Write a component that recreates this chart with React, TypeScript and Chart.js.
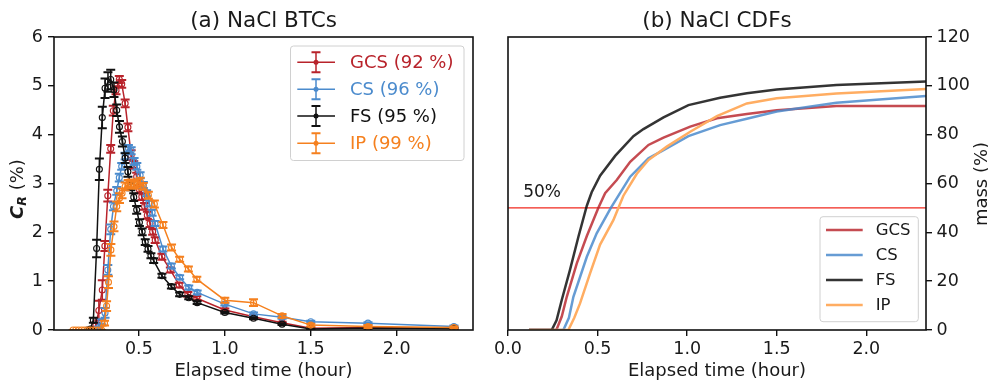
import React, { useEffect, useRef } from "react";
import { Chart, registerables } from "chart.js";
Chart.register(...registerables);

const FONT = "'DejaVu Sans', 'Liberation Sans', sans-serif";
const TEXT = "#1a1a1a";

// ---------- (a) BTC data: time (hour), C_R (%), error (%) ----------
const gcsTime = [0.217, 0.233, 0.25, 0.267, 0.287, 0.302, 0.319, 0.336, 0.351, 0.367, 0.386, 0.4, 0.42, 0.436, 0.455, 0.47, 0.487, 0.502, 0.517, 0.533, 0.549, 0.565, 0.58, 0.595, 0.634, 0.683, 0.735, 0.785, 0.837, 1.0, 1.167, 1.333, 1.5, 1.833, 2.333];
const gcsConc = [0, 0, 0.1, 0.4, 0.82, 1.72, 2.75, 3.71, 4.49, 4.91, 5.13, 5.04, 4.64, 4.15, 3.58, 3.38, 3.14, 2.88, 2.73, 2.53, 2.35, 2.18, 2.01, 1.84, 1.5, 1.23, 0.92, 0.73, 0.65, 0.41, 0.27, 0.15, 0.035, 0.05, 0.03];
const gcsErr = [0, 0, 0.05, 0.2, 0.2, 0.1, 0.12, 0.08, 0.1, 0.08, 0.07, 0.08, 0.08, 0.08, 0.1, 0.08, 0.08, 0.08, 0.07, 0.07, 0.07, 0.07, 0.06, 0.06, 0.06, 0.05, 0.05, 0.05, 0.04, 0.03, 0.03, 0.02, 0.02, 0.02, 0.02];

const csTime = [0.25, 0.267, 0.283, 0.303, 0.319, 0.336, 0.352, 0.371, 0.386, 0.4, 0.42, 0.439, 0.455, 0.472, 0.488, 0.507, 0.526, 0.545, 0.56, 0.577, 0.594, 0.64, 0.689, 0.737, 0.79, 0.839, 1.0, 1.167, 1.333, 1.5, 1.833, 2.333];
const csConc = [0, 0.05, 0.17, 0.35, 1.23, 2.06, 2.53, 2.85, 3.12, 3.35, 3.56, 3.72, 3.67, 3.45, 3.35, 3.17, 2.97, 2.8, 2.59, 2.4, 2.18, 1.66, 1.31, 1.08, 0.87, 0.77, 0.53, 0.33, 0.26, 0.17, 0.14, 0.07];
const csErr = [0, 0.02, 0.05, 0.1, 0.1, 0.1, 0.08, 0.08, 0.08, 0.07, 0.07, 0.07, 0.07, 0.07, 0.07, 0.06, 0.06, 0.06, 0.06, 0.06, 0.05, 0.05, 0.05, 0.04, 0.04, 0.04, 0.03, 0.03, 0.03, 0.02, 0.02, 0.02];

const fsTime = [0.2, 0.218, 0.235, 0.254, 0.27, 0.287, 0.303, 0.32, 0.336, 0.355, 0.371, 0.387, 0.404, 0.42, 0.436, 0.453, 0.47, 0.487, 0.503, 0.519, 0.537, 0.553, 0.57, 0.586, 0.634, 0.689, 0.737, 0.79, 0.839, 1.0, 1.167, 1.333, 1.5, 1.833, 2.333];
const fsConc = [0, 0.02, 0.2, 1.67, 3.29, 4.35, 4.95, 5.08, 5.13, 4.92, 4.5, 4.16, 3.86, 3.52, 3.24, 2.94, 2.72, 2.46, 2.2, 2.01, 1.8, 1.66, 1.52, 1.42, 1.11, 0.89, 0.73, 0.66, 0.56, 0.36, 0.24, 0.12, 0.02, 0.04, 0.03];
const fsErr = [0, 0, 0.05, 0.18, 0.22, 0.22, 0.2, 0.2, 0.2, 0.15, 0.12, 0.12, 0.1, 0.1, 0.1, 0.08, 0.08, 0.08, 0.07, 0.07, 0.06, 0.06, 0.05, 0.05, 0.04, 0.04, 0.04, 0.03, 0.03, 0.02, 0.02, 0.02, 0.01, 0.01, 0.01];

const ipTime = [0.117, 0.133, 0.15, 0.167, 0.183, 0.2, 0.217, 0.233, 0.25, 0.267, 0.283, 0.3, 0.312, 0.323, 0.337, 0.355, 0.371, 0.387, 0.402, 0.42, 0.438, 0.455, 0.472, 0.49, 0.508, 0.525, 0.555, 0.59, 0.64, 0.69, 0.737, 0.788, 0.837, 1.0, 1.167, 1.333, 1.5, 1.833, 2.333];
const ipConc = [0, 0, 0, 0, 0, 0, 0, 0, 0, 0, 0, 0.14, 0.49, 0.98, 1.64, 2.12, 2.53, 2.7, 2.8, 2.94, 2.99, 3.0, 2.97, 3.0, 3.04, 2.94, 2.76, 2.58, 2.15, 1.69, 1.45, 1.25, 1.04, 0.61, 0.56, 0.29, 0.1, 0.07, 0.05];
const ipErr = [0, 0, 0, 0, 0, 0, 0, 0, 0, 0, 0, 0.05, 0.1, 0.12, 0.12, 0.1, 0.1, 0.1, 0.1, 0.08, 0.08, 0.08, 0.08, 0.08, 0.08, 0.07, 0.07, 0.07, 0.06, 0.06, 0.05, 0.05, 0.05, 0.05, 0.07, 0.04, 0.03, 0.03, 0.02];

// ---------- (b) CDF data: time (hour), cumulative mass (%) ----------
const gcsCdfTime = [0.117, 0.27, 0.3, 0.328, 0.384, 0.44, 0.504, 0.542, 0.607, 0.682, 0.784, 0.868, 1.017, 1.166, 1.333, 1.5, 1.833, 2.333];
const gcsCdf = [0, 0, 5.5, 13.6, 27.3, 38.5, 50, 56, 61.4, 68.9, 75.8, 78.8, 83.3, 86.7, 88.5, 90, 91.7, 91.7];
const csCdfTime = [0.117, 0.309, 0.34, 0.365, 0.44, 0.495, 0.574, 0.682, 0.784, 0.868, 1.007, 1.184, 1.333, 1.5, 1.833, 2.333];
const csCdf = [0, 0, 5, 13.6, 30, 39.6, 50, 62.8, 70.3, 73.7, 79.4, 83.9, 86.5, 89.5, 93.1, 95.8];
const fsCdfTime = [0.117, 0.244, 0.271, 0.3, 0.346, 0.393, 0.44, 0.467, 0.514, 0.598, 0.7, 0.756, 0.868, 1.007, 1.184, 1.333, 1.5, 1.833, 2.333];
const fsCdf = [0, 0, 4, 12.3, 24.6, 38.2, 50.9, 56.4, 63.2, 71.3, 79.4, 82.3, 87.1, 92.1, 95.1, 97, 98.5, 100.3, 101.8];
const ipCdfTime = [0.117, 0.337, 0.37, 0.402, 0.458, 0.514, 0.588, 0.616, 0.644, 0.719, 0.784, 0.886, 1.017, 1.166, 1.333, 1.5, 1.833, 2.333];
const ipCdf = [0, 0, 5, 10.9, 23.2, 35, 45, 50, 55, 64, 69.6, 75.1, 81.2, 87.6, 92.8, 94.9, 96.9, 98.7];

const seriesNames = ["GCS", "CS", "FS", "IP"];
const recovery = [92, 96, 95, 99];
const btcXTicks = [0.5, 1.0, 1.5, 2.0];
const cdfXTicks = [0.0, 0.5, 1.0, 1.5, 2.0];
const halfLine = 50;

const btcColors = ["#b8232b", "#4b8bcd", "#111111", "#f5801e"];
const cdfColors = ["rgba(184,35,43,0.82)", "rgba(75,139,205,0.85)", "rgba(17,17,17,0.85)", "#ffad62"];

function roundRect(ctx: CanvasRenderingContext2D, x: number, y: number, w: number, h: number, r: number) {
  ctx.beginPath();
  ctx.moveTo(x + r, y);
  ctx.lineTo(x + w - r, y);
  ctx.arcTo(x + w, y, x + w, y + r, r);
  ctx.lineTo(x + w, y + h - r);
  ctx.arcTo(x + w, y + h, x + w - r, y + h, r);
  ctx.lineTo(x + r, y + h);
  ctx.arcTo(x, y + h, x, y + h - r, r);
  ctx.lineTo(x, y + r);
  ctx.arcTo(x, y, x + r, y, r);
  ctx.closePath();
}

const framePlugin = {
  id: "frame",
  afterDraw(chart: any) {
    const { ctx, chartArea: a } = chart;
    ctx.save();
    ctx.strokeStyle = "#111";
    ctx.lineWidth = 1.6;
    ctx.strokeRect(a.left, a.top, a.right - a.left, a.bottom - a.top);
    ctx.restore();
  },
};

function titlePlugin(text: string) {
  return {
    id: "ptitle",
    afterDraw(chart: any) {
      const { ctx, chartArea: a } = chart;
      ctx.save();
      ctx.font = `21.5px ${FONT}`;
      ctx.fillStyle = TEXT;
      ctx.textAlign = "center";
      ctx.textBaseline = "alphabetic";
      ctx.fillText(text, (a.left + a.right) / 2, 27);
      ctx.restore();
    },
  };
}

const errorBarPlugin = {
  id: "errbars",
  afterDatasetDraw(chart: any, args: any) {
    const ds = chart.data.datasets[args.index];
    if (!ds.errors) return;
    const { ctx, chartArea: a } = chart;
    const xs = chart.scales.x;
    const ys = chart.scales.y;
    ctx.save();
    ctx.beginPath();
    ctx.rect(a.left, a.top, a.right - a.left, a.bottom - a.top);
    ctx.clip();
    ctx.strokeStyle = ds.borderColor;
    ds.data.forEach((p: any, k: number) => {
      const e = ds.errors[k];
      const px = xs.getPixelForValue(p.x);
      const yt = ys.getPixelForValue(p.y + e);
      const yb = ys.getPixelForValue(p.y - e);
      ctx.lineWidth = 1.5;
      ctx.beginPath();
      ctx.moveTo(px, yt);
      ctx.lineTo(px, yb);
      ctx.stroke();
      ctx.lineWidth = 2;
      ctx.beginPath();
      ctx.moveTo(px - 4.5, yt);
      ctx.lineTo(px + 4.5, yt);
      ctx.moveTo(px - 4.5, yb);
      ctx.lineTo(px + 4.5, yb);
      ctx.stroke();
    });
    ctx.restore();
  },
};

const btcExtrasPlugin = {
  id: "btcExtras",
  afterDraw(chart: any) {
    const { ctx } = chart;
    ctx.save();
    // y title: C_R (%)
    ctx.translate(22.6, 189);
    ctx.rotate(-Math.PI / 2);
    ctx.fillStyle = TEXT;
    ctx.textBaseline = "alphabetic";
    const fBold = `italic bold 18px ${FONT}`;
    const fSub = `italic bold 12.6px ${FONT}`;
    const fReg = `18px ${FONT}`;
    ctx.font = fBold;
    const wC = ctx.measureText("C").width;
    ctx.font = fSub;
    const wR = ctx.measureText("R").width;
    ctx.font = fReg;
    const wP = ctx.measureText(" (%)").width;
    let x0 = -(wC + wR + wP) / 2;
    ctx.textAlign = "left";
    ctx.font = fBold;
    ctx.fillText("C", x0, 0);
    x0 += wC;
    ctx.font = fSub;
    ctx.fillText("R", x0, 3.5);
    x0 += wR;
    ctx.font = fReg;
    ctx.fillText(" (%)", x0, 0);
    ctx.restore();

    // legend
    ctx.save();
    roundRect(ctx, 290.5, 46, 173.5, 114.5, 3);
    ctx.fillStyle = "rgba(255,255,255,0.85)";
    ctx.fill();
    ctx.strokeStyle = "#d0d0d0";
    ctx.lineWidth = 1;
    ctx.stroke();
    const rows = [62.3, 89.3, 116, 143.3];
    seriesNames.forEach((n, i) => {
      const y = rows[i];
      const c = btcColors[i];
      ctx.strokeStyle = c;
      ctx.fillStyle = c;
      ctx.lineWidth = 1.5;
      ctx.beginPath();
      ctx.moveTo(297.3, y);
      ctx.lineTo(335, y);
      ctx.moveTo(316, y - 10);
      ctx.lineTo(316, y + 10);
      ctx.stroke();
      ctx.lineWidth = 2;
      ctx.beginPath();
      ctx.moveTo(311.5, y - 10);
      ctx.lineTo(320.5, y - 10);
      ctx.moveTo(311.5, y + 10);
      ctx.lineTo(320.5, y + 10);
      ctx.stroke();
      ctx.beginPath();
      ctx.arc(316, y, 2.5, 0, Math.PI * 2);
      ctx.fill();
      ctx.font = `18px ${FONT}`;
      ctx.textAlign = "left";
      ctx.textBaseline = "middle";
      ctx.fillText(`${n} (${recovery[i]} %)`, 350, y + 1);
    });
    ctx.restore();
  },
};

const cdfExtrasPlugin = {
  id: "cdfExtras",
  beforeDatasetsDraw(chart: any) {
    const { ctx, chartArea: a } = chart;
    const y = chart.scales.y.getPixelForValue(halfLine);
    ctx.save();
    ctx.strokeStyle = "#f0281e";
    ctx.lineWidth = 1.1;
    ctx.beginPath();
    ctx.moveTo(a.left, y);
    ctx.lineTo(a.right, y);
    ctx.stroke();
    ctx.font = `17px ${FONT}`;
    ctx.fillStyle = TEXT;
    ctx.textAlign = "left";
    ctx.textBaseline = "alphabetic";
    ctx.fillText(`${halfLine}%`, chart.scales.x.getPixelForValue(0.085), chart.scales.y.getPixelForValue(54.5));
    ctx.restore();
  },
  afterDraw(chart: any) {
    const { ctx } = chart;
    // right y title
    ctx.save();
    ctx.translate(496.5, 184);
    ctx.rotate(-Math.PI / 2);
    ctx.font = `18px ${FONT}`;
    ctx.fillStyle = TEXT;
    ctx.textAlign = "center";
    ctx.textBaseline = "alphabetic";
    ctx.fillText("mass (%)", 0, 0);
    ctx.restore();

    // legend
    ctx.save();
    roundRect(ctx, 330, 216.7, 98.3, 105, 3);
    ctx.fillStyle = "rgba(255,255,255,0.85)";
    ctx.fill();
    ctx.strokeStyle = "#d0d0d0";
    ctx.lineWidth = 1;
    ctx.stroke();
    const rows = [230, 255, 280, 305];
    seriesNames.forEach((n, i) => {
      const y = rows[i];
      ctx.strokeStyle = cdfColors[i];
      ctx.lineWidth = 2.7;
      ctx.beginPath();
      ctx.moveTo(336, y);
      ctx.lineTo(372.7, y);
      ctx.stroke();
      ctx.font = `16.5px ${FONT}`;
      ctx.fillStyle = TEXT;
      ctx.textAlign = "left";
      ctx.textBaseline = "middle";
      ctx.fillText(n, 385.7, y + 1);
    });
    ctx.restore();
  },
};

const tickFont = { family: FONT, size: 17.5 };
const gridTicks = { display: true, drawOnChartArea: false, drawTicks: true, tickLength: 6, color: "#111", lineWidth: 1.4 };

function btcConfig(): any {
  const series = [
    { t: gcsTime, c: gcsConc, e: gcsErr },
    { t: csTime, c: csConc, e: csErr },
    { t: fsTime, c: fsConc, e: fsErr },
    { t: ipTime, c: ipConc, e: ipErr },
  ];
  return {
    type: "scatter",
    data: {
      datasets: series.map((s, i) => ({
        label: seriesNames[i],
        data: s.t.map((t, k) => ({ x: t, y: s.c[k] })),
        errors: s.e,
        showLine: true,
        borderColor: btcColors[i],
        borderWidth: 1.5,
        pointRadius: 3,
        pointBorderWidth: 1.1,
        pointBackgroundColor: "rgba(255,255,255,0)",
        pointBorderColor: btcColors[i],
        order: 4 - i,
      })),
    },
    options: {
      animation: false,
      responsive: false,
      devicePixelRatio: 1,
      layout: { padding: { left: 0, top: 37, right: 17, bottom: 0 } },
      plugins: { legend: { display: false }, tooltip: { enabled: false }, title: { display: false } },
      scales: {
        x: {
          type: "linear",
          min: 0.006,
          max: 2.444,
          afterBuildTicks: (sc: any) => { sc.ticks = btcXTicks.map((v) => ({ value: v })); },
          afterFit: (sc: any) => { sc.height = 52; },
          ticks: { font: tickFont, color: TEXT, padding: 3, maxRotation: 0, callback: (v: any) => Number(v).toFixed(1) },
          grid: gridTicks,
          border: { display: false },
          title: { display: true, text: "Elapsed time (hour)", font: { family: FONT, size: 18 }, color: TEXT, padding: { top: 0, bottom: 0 } },
        },
        y: {
          type: "linear",
          min: 0,
          max: 6,
          afterFit: (sc: any) => { sc.width = 54; },
          ticks: { stepSize: 1, font: tickFont, color: TEXT, padding: 5, callback: (v: any) => String(v) },
          grid: gridTicks,
          border: { display: false },
        },
      },
    },
    plugins: [errorBarPlugin, framePlugin, titlePlugin("(a) NaCl BTCs"), btcExtrasPlugin],
  };
}

function cdfConfig(): any {
  const series = [
    { t: gcsCdfTime, m: gcsCdf },
    { t: csCdfTime, m: csCdf },
    { t: fsCdfTime, m: fsCdf },
    { t: ipCdfTime, m: ipCdf },
  ];
  return {
    type: "scatter",
    data: {
      datasets: series.map((s, i) => ({
        label: seriesNames[i],
        data: s.t.map((t, k) => ({ x: t, y: s.m[k] })),
        showLine: true,
        borderColor: cdfColors[i],
        borderWidth: 2.5,
        pointRadius: 0,
        tension: 0,
        order: 4 - i,
      })),
    },
    options: {
      animation: false,
      responsive: false,
      devicePixelRatio: 1,
      layout: { padding: { left: 18, top: 37, right: 0, bottom: 0 } },
      plugins: { legend: { display: false }, tooltip: { enabled: false }, title: { display: false } },
      scales: {
        x: {
          type: "linear",
          min: 0,
          max: 2.333,
          afterBuildTicks: (sc: any) => { sc.ticks = cdfXTicks.map((v) => ({ value: v })); },
          afterFit: (sc: any) => { sc.height = 52; },
          ticks: { font: tickFont, color: TEXT, padding: 3, maxRotation: 0, callback: (v: any) => Number(v).toFixed(1) },
          grid: gridTicks,
          border: { display: false },
          title: { display: true, text: "Elapsed time (hour)", font: { family: FONT, size: 18 }, color: TEXT, padding: { top: 0, bottom: 0 } },
        },
        y: {
          type: "linear",
          position: "right",
          min: 0,
          max: 120,
          afterFit: (sc: any) => { sc.width = 62; },
          ticks: { stepSize: 20, font: tickFont, color: TEXT, padding: 4.5, callback: (v: any) => String(v) },
          grid: gridTicks,
          border: { display: false },
        },
      },
    },
    plugins: [cdfExtrasPlugin, framePlugin, titlePlugin("(b) NaCl CDFs")],
  };
}

export default function App() {
  const leftRef = useRef<HTMLCanvasElement>(null);
  const rightRef = useRef<HTMLCanvasElement>(null);
  useEffect(() => {
    const c1 = new Chart(leftRef.current as HTMLCanvasElement, btcConfig());
    const c2 = new Chart(rightRef.current as HTMLCanvasElement, cdfConfig());
    return () => {
      c1.destroy();
      c2.destroy();
    };
  }, []);
  return (
    <div style={{ position: "fixed", left: 0, top: 0, width: 988, height: 382, background: "#fff", overflow: "hidden" }}>
      <canvas ref={leftRef} width={490} height={382} style={{ position: "absolute", left: 0, top: 0, width: 490, height: 382 }} />
      <canvas ref={rightRef} width={498} height={382} style={{ position: "absolute", left: 490, top: 0, width: 498, height: 382 }} />
    </div>
  );
}
